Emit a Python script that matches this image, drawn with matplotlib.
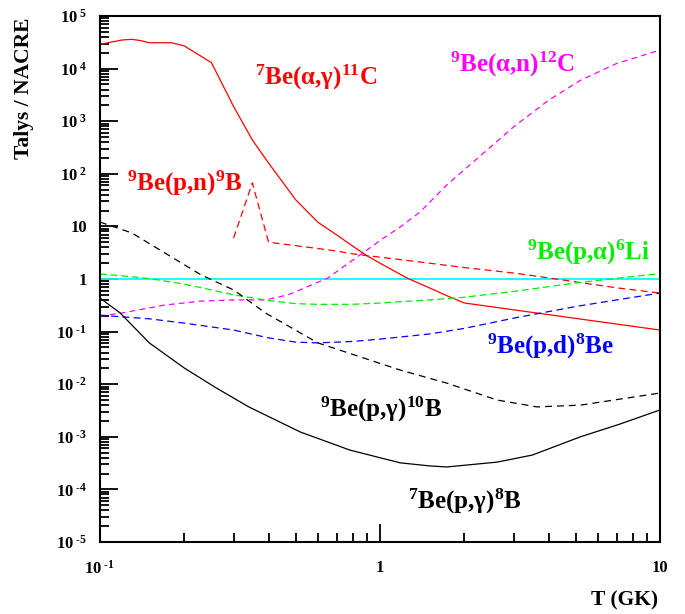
import matplotlib
matplotlib.use("Agg")
import matplotlib.pyplot as plt
from matplotlib.ticker import LogLocator, FixedLocator, FuncFormatter, NullFormatter
import numpy as np

plt.rcParams['font.family'] = ['Liberation Serif', 'DejaVu Serif']
plt.rcParams['font.weight'] = 'bold'
plt.rcParams['mathtext.fontset'] = 'custom'
plt.rcParams['mathtext.rm'] = 'Liberation Serif:bold'
plt.rcParams['mathtext.it'] = 'Liberation Serif:bold'
plt.rcParams['mathtext.bf'] = 'Liberation Serif:bold'

# Ratio of TALYS to NACRE reaction rates versus temperature (GK)
T_be7ag = [0.1, 0.12, 0.13, 0.14, 0.15, 0.18, 0.2, 0.25, 0.3, 0.35, 0.4, 0.5,
           0.6, 0.7, 0.8, 0.9, 1.0, 1.25, 1.5, 1.75, 2.0, 10.0]
r_be7ag = [2.9e4, 3.5e4, 3.6e4, 3.4e4, 3.1e4, 3.1e4, 2.7e4, 1.3e4, 1.9e3, 440,
           160, 32, 12, 6.9, 4.2, 2.75, 2.0, 1.04, 0.68, 0.47, 0.35, 0.107]

T_be9pn = [0.3, 0.35, 0.4, 0.5, 0.6, 0.7, 0.8, 1.0, 1.5, 2.0, 3.0, 4.0, 5.0,
           7.0, 10.0]
r_be9pn = [6.0, 67, 5.0, 4.3, 3.8, 3.4, 3.0, 2.6, 2.0, 1.65, 1.3, 1.05, 0.88,
           0.68, 0.54]

T_be9an = [0.1, 0.12, 0.17, 0.23, 0.3, 0.39, 0.47, 0.65, 1.03, 1.18, 1.39,
           1.73, 3.0, 4.0, 5.2, 7.0, 10.0]
r_be9an = [0.198, 0.226, 0.32, 0.38, 0.40, 0.40, 0.50, 1.04, 6.0, 9.7, 18.8,
           61, 780, 2500, 6000, 1.25e4, 2.25e4]

T_be9pa = [0.1, 0.12, 0.15, 0.2, 0.25, 0.3, 0.4, 0.5, 0.6, 0.8, 1.0, 1.5,
           2.0, 3.0, 5.0, 7.0, 10.0]
r_be9pa = [1.25, 1.15, 1.02, 0.8, 0.62, 0.5, 0.39, 0.34, 0.33, 0.33, 0.35,
           0.40, 0.45, 0.58, 0.84, 1.03, 1.27]

T_be9pd = [0.1, 0.15, 0.2, 0.3, 0.4, 0.5, 0.6, 0.8, 1.0, 1.5, 2.0, 3.0, 5.0,
           7.0, 10.0]
r_be9pd = [0.205, 0.175, 0.145, 0.107, 0.076, 0.063, 0.061, 0.065, 0.072,
           0.09, 0.115, 0.18, 0.30, 0.40, 0.54]

T_unity = [0.1, 10.0]
r_unity = [1.0, 1.0]

T_be9pg = [0.1, 0.13, 0.23, 0.3, 0.39, 0.6, 1.18, 1.73, 2.62, 3.64, 5.2, 10.0]
r_be9pg = [12.1, 7.5, 1.19, 0.62, 0.226, 0.061, 0.0186, 0.0105, 0.0050,
           0.0037, 0.0040, 0.0068]

T_be7pg = [0.1, 0.118, 0.15, 0.2, 0.26, 0.34, 0.52, 0.78, 1.18, 1.5, 1.73,
           2.62, 3.5, 5.2, 7.2, 10.0]
r_be7pg = [0.435, 0.226, 0.061, 0.0203, 0.0085, 0.0037, 0.00123, 5.6e-4,
           3.2e-4, 2.8e-4, 2.67e-4, 3.3e-4, 4.5e-4, 1.0e-3, 1.75e-3, 3.24e-3]

fig = plt.figure(figsize=(6.85, 6.14), dpi=100)
ax = fig.add_axes([100 / 685, 1 - 542 / 614, 560 / 685, 526 / 614])
ax.set_xscale('log')
ax.set_yscale('log')
ax.set_xlim(0.1, 10)
ax.set_ylim(1e-5, 1e5)

lw = 0.9
ax.plot(T_unity, r_unity, color='#00ffff', lw=1.3)
ax.plot(T_be7ag, r_be7ag, color='red', lw=lw)
ax.plot(T_be9pn, r_be9pn, color='red', lw=lw, dashes=(5.5, 3.5))
ax.plot(T_be9an, r_be9an, color='magenta', lw=lw, dashes=(4.5, 3.5))
ax.plot(T_be9pa, r_be9pa, color='#00ee00', lw=lw, dashes=(5.5, 3.0))
ax.plot(T_be9pd, r_be9pd, color='blue', lw=lw, dashes=(5.5, 3.5))
ax.plot(T_be9pg, r_be9pg, color='black', lw=lw, dashes=(5.5, 4.0))
ax.plot(T_be7pg, r_be7pg, color='black', lw=lw)

# Reaction labels
fs = 18
ax.text(0.358, 4900, r'$^{7}$Be(α,γ)$^{11}$C', color='red', fontsize=fs,
        ha='left', va='baseline')
ax.text(1.78, 8600, r'$^{9}$Be(α,n)$^{12}$C', color='magenta', fontsize=fs,
        ha='left', va='baseline')
ax.text(0.125, 49, r'$^{9}$Be(p,n)$^{9}$B', color='red', fontsize=fs,
        ha='left', va='baseline')
ax.text(3.35, 2.3, r'$^{9}$Be(p,α)$^{6}$Li', color='#00ee00', fontsize=fs,
        ha='left', va='baseline')
ax.text(2.41, 0.039, r'$^{9}$Be(p,d)$^{8}$Be', color='blue', fontsize=fs,
        ha='left', va='baseline')
ax.text(0.61, 0.00238, r'$^{9}$Be(p,γ)$^{10}$B', color='black', fontsize=fs,
        ha='left', va='baseline')
ax.text(1.259, 4.4e-5, r'$^{7}$Be(p,γ)$^{8}$B', color='black', fontsize=fs,
        ha='left', va='baseline')


def decade_label(v, pos):
    e = int(round(np.log10(v)))
    if e == 0:
        return '1'
    if e == 1:
        return '10'
    sign = '\u2010' if e < 0 else ''
    return r'$10^{\ %s%d}$' % (sign, abs(e))


ax.yaxis.set_major_locator(FixedLocator([10.0 ** k for k in range(-5, 6)]))
ax.yaxis.set_minor_locator(LogLocator(base=10, subs=np.arange(2, 10), numticks=20))
ax.xaxis.set_major_locator(FixedLocator([0.1, 1, 10]))
ax.xaxis.set_minor_locator(LogLocator(base=10, subs=np.arange(2, 10), numticks=20))
ax.yaxis.set_major_formatter(FuncFormatter(decade_label))
ax.xaxis.set_major_formatter(FuncFormatter(decade_label))
ax.xaxis.set_minor_formatter(NullFormatter())
ax.yaxis.set_minor_formatter(NullFormatter())

ax.tick_params(which='both', direction='in', top=False, right=False,
               width=1.3, labelsize=12)
ax.tick_params(which='major', length=13)
ax.tick_params(which='minor', length=6.5)
ax.tick_params(axis='x', which='major', pad=13)
ax.tick_params(axis='y', which='major', pad=9)
for s in ax.spines.values():
    s.set_linewidth(1.5)

fig.text(24 / 685, 1 - 88 / 614, 'Talys / NACRE', rotation=90, fontsize=15.5,
         ha='center', va='center')
fig.text(658 / 685, 1 - 600 / 614, 'T (GK)', fontsize=15.5, ha='right',
         va='center')

fig.savefig('out.png', dpi=100)
